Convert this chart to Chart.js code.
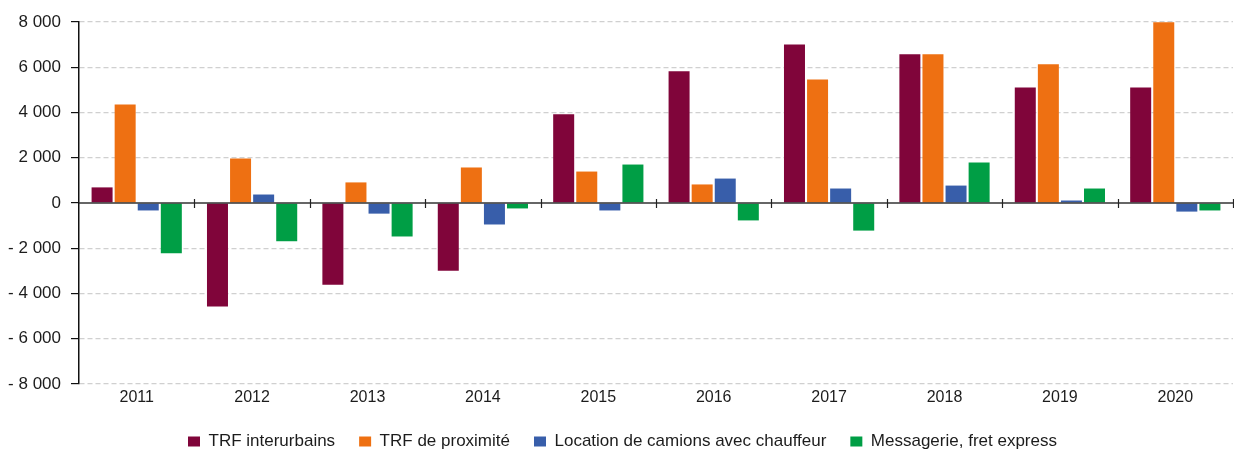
<!DOCTYPE html>
<html>
<head>
<meta charset="utf-8">
<script src="https://cdn.jsdelivr.net/npm/chart.js@4.4.1/dist/chart.umd.min.js"></script>
<style>
    html, body { margin: 0; padding: 0; background: #fff; }
    #wrap { width: 1234px; height: 452px; }
</style>
</head>
<body>
<div id="wrap"><canvas id="chart"></canvas></div>
<script>
// Chart data
const years = ['2011', '2012', '2013', '2014', '2015', '2016', '2017', '2018', '2019', '2020'];
const trfInterurbains = [690, -4570, -3610, -2990, 3920, 5820, 7010, 6570, 5110, 5110];
const trfProximite = [4350, 1970, 910, 1570, 1390, 820, 5460, 6570, 6130, 7990];
const locationCamions = [-330, 375, -470, -950, -330, 1080, 640, 770, 110, -380];
const messagerie = [-2220, -1690, -1480, -240, 1700, -770, -1220, 1790, 640, -330];
const yTicks = [-8000, -6000, -4000, -2000, 0, 2000, 4000, 6000, 8000];

// Format numbers like "- 2 000"
function formatValue(v) {
    const abs = Math.abs(v).toString().replace(/\B(?=(\d{3})+(?!\d))/g, ' ');
    return v < 0 ? '- ' + abs : abs;
}

// Layout tweaks + zero line with small ticks between categories
const layoutPlugin = {
    id: 'layoutTweaks',
    afterLayout(chart) {
        // let year labels draw past the (thin) x axis box
        chart.scales.x.bottom += 24;
        // move legend a bit down / right
        const legend = chart.legend;
        legend.top += 8;
        legend.bottom += 8;
        legend.left += 6;
        legend.right += 6;
    },
    afterDatasetsDraw(chart) {
        const ctx = chart.ctx;
        const x = chart.scales.x;
        const y0 = chart.scales.y.getPixelForValue(0);
        const area = chart.chartArea;
        ctx.save();
        ctx.strokeStyle = '#333';
        ctx.lineWidth = 1.6;
        ctx.beginPath();
        ctx.moveTo(area.left, y0);
        ctx.lineTo(area.right, y0);
        ctx.stroke();
        ctx.lineWidth = 1.2;
        ctx.strokeStyle = '#222';
        const step = x.getPixelForValue(1) - x.getPixelForValue(0);
        for (let i = 0; i < years.length; i++) {
            const px = Math.round(x.getPixelForValue(i) + step / 2) + 0.5;
            ctx.beginPath();
            ctx.moveTo(px, y0 - 4);
            ctx.lineTo(px, y0 + 5);
            ctx.stroke();
        }
        ctx.restore();
    }
};

Chart.defaults.font.family = '"Liberation Sans", Arial, Helvetica, sans-serif';
Chart.defaults.font.size = 16;
Chart.defaults.color = '#1c1c1c';

const ctx = document.getElementById('chart').getContext('2d');
new Chart(ctx, {
    type: 'bar',
    data: {
        labels: years,
        datasets: [
            { label: 'TRF interurbains', data: trfInterurbains, backgroundColor: '#80053A' },
            { label: 'TRF de proximité', data: trfProximite, backgroundColor: '#EE7012' },
            { label: 'Location de camions avec chauffeur', data: locationCamions, backgroundColor: '#385EAA' },
            { label: 'Messagerie, fret express', data: messagerie, backgroundColor: '#009E45' }
        ]
    },
    options: {
        responsive: true,
        maintainAspectRatio: false,
        animation: false,
        layout: {
            padding: { top: 22, right: 1, bottom: 0, left: 0 }
        },
        datasets: {
            bar: {
                categoryPercentage: 0.8,
                barPercentage: 0.91
            }
        },
        scales: {
            x: {
                grid: { display: false, drawTicks: false },
                border: { display: false },
                afterFit(scale) {
                    scale.height = 17;
                },
                ticks: { padding: 4 }
            },
            y: {
                min: -8000,
                max: 8000,
                afterBuildTicks(scale) {
                    scale.ticks = yTicks.map(v => ({ value: v }));
                },
                afterFit(scale) {
                    scale.width = 79;
                },
                grid: {
                    color: c => (c.tick && c.tick.value === 0) ? 'rgba(0,0,0,0)' : '#d0d0d0',
                    lineWidth: 1.2,
                    tickColor: '#111',
                    tickLength: 8,
                    tickBorderDash: []
                },
                border: { display: true, color: '#111', width: 1.5, dash: [5, 3] },
                ticks: {
                    padding: 10,
                    font: { size: 17 },
                    callback: v => formatValue(v)
                }
            }
        },
        plugins: {
            legend: {
                position: 'bottom',
                labels: {
                    boxWidth: 12,
                    boxHeight: 10,
                    padding: 24,
                    font: { size: 17 }
                }
            },
            tooltip: { enabled: false }
        }
    },
    plugins: [layoutPlugin]
});
</script>
</body>
</html>
